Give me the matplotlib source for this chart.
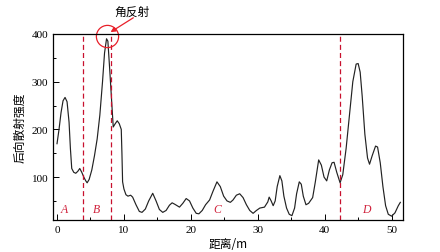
import matplotlib
matplotlib.use("Agg")
import matplotlib.pyplot as plt

distance = [0.0, 0.3, 0.6, 0.9, 1.2, 1.5, 1.8, 2.0, 2.2, 2.5, 2.8, 3.1, 3.4, 3.7, 4.0, 4.3, 4.5, 4.8,
            5.2, 5.6, 6.0, 6.4, 6.8, 7.1, 7.4, 7.6, 7.9, 8.2, 8.4, 8.7, 9.0, 9.3, 9.6, 9.7, 9.8, 10.0,
            10.3, 10.6, 11.0, 11.3, 11.8, 12.3, 12.7, 13.2, 13.7, 14.3, 14.8, 15.3, 15.8, 16.3, 16.8,
            17.2, 17.6, 18.3, 18.8, 19.3, 19.8, 20.3, 20.8, 21.2, 21.7, 22.2, 22.8, 23.3, 23.9, 24.4,
            24.9, 25.4, 25.9, 26.3, 26.8, 27.3, 27.8, 28.3, 28.8, 29.3, 29.8, 30.3, 31.0, 31.5, 31.7,
            32.0, 32.3, 32.6, 32.9, 33.3, 33.6, 33.9, 34.3, 34.7, 35.1, 35.5, 35.8, 36.2, 36.5, 36.8,
            37.2, 37.6, 38.2, 38.6, 39.1, 39.5, 39.9, 40.3, 40.7, 41.1, 41.4, 41.8, 42.3, 42.7, 43.2,
            43.7, 44.2, 44.7, 45.0, 45.3, 45.6, 46.0, 46.4, 46.7, 47.1, 47.6, 47.9, 48.3, 48.7, 49.1,
            49.5, 50.0, 50.5, 51.0, 51.3]
intensity = [170, 200, 235, 260, 267, 258, 215, 160, 118, 110, 108, 112, 118, 110, 100, 92, 88, 95,
             115, 145, 180, 230, 300, 360, 390, 385, 320, 250, 205, 212, 218, 212, 200, 150, 90, 75,
             63, 60, 62, 58, 42, 28, 26, 33, 50, 66, 50, 32, 26, 30, 41,
             46, 43, 37, 45, 55, 50, 35, 24, 23, 30, 42, 52, 70, 90, 80,
             60, 50, 47, 52, 62, 65, 57, 42, 30, 24, 30, 35, 37, 48, 58,
             50, 40, 50, 80, 103, 92, 60, 35, 22, 19, 35, 65, 90, 85, 60,
             42, 45, 57, 90, 136, 125, 100, 92, 115, 130, 131, 110, 88, 105, 160,
             230, 300, 337, 338, 320, 270, 190, 140, 127, 145, 165, 163, 130, 80, 40,
             22, 18, 25, 40, 47]

boundaries = [3.9, 8.05, 42.3]
region_labels = ["A", "B", "C", "D"]
region_x = [1.1, 5.9, 24.0, 46.3]
region_y = [33, 33, 33, 33]
x_ticks = [0, 10, 20, 30, 40, 50]
y_ticks = [100, 200, 300, 400]
peak = (7.4, 396)

plt.rcParams['font.family'] = ['Liberation Serif', 'Noto Sans CJK SC']

fig = plt.figure(figsize=(4.4, 2.53), dpi=100)
ax = fig.add_axes([53/440, 1-221/253, 350/440, 186/253])

ax.plot(distance, intensity, color='#222222', lw=0.85)
for b in boundaries:
    ax.axvline(b, color='#c8102e', lw=0.9, ls=(0, (4, 2.5)))
for lab, xx, yy in zip(region_labels, region_x, region_y):
    ax.text(xx, yy, lab, color='#d0203a', fontsize=8.5, style='italic',
            ha='center', va='center', family='Liberation Serif')

ax.plot([peak[0]], [peak[1]], marker='o', ms=16, mfc='none', mec='#e8202a',
        mew=0.9, clip_on=False)
ax.text(11.2, 448, '角反射', fontsize=8.5, ha='center', va='center',
        family=['Noto Sans CJK SC'], clip_on=False)
ax.annotate('', xy=(8.0, 404), xytext=(11.4, 434),
            textcoords='data', annotation_clip=False,
            arrowprops=dict(arrowstyle='-|>', color='#e8202a', lw=0.9,
                            shrinkA=0, shrinkB=0, mutation_scale=7))

ax.set_xlim(-0.6, 51.7)
ax.set_ylim(10, 400)
ax.set_xticks(x_ticks)
ax.set_yticks(y_ticks)
ax.set_xticks([5, 15, 25, 35, 45], minor=True)
ax.set_yticks([50, 150, 250, 350], minor=True)
ax.tick_params(which='both', direction='in', labelsize=8, top=False, right=False)
ax.tick_params(which='major', length=4, width=0.7)
ax.tick_params(which='minor', length=2.5, width=0.7)
for s in ax.spines.values():
    s.set_linewidth(0.9)

ax.set_xlabel('距离/m', fontsize=8.5, family=['Noto Sans CJK SC', 'Liberation Serif'], labelpad=2)
ax.set_ylabel('后向散射强度', fontsize=8.5, family=['Noto Sans CJK SC'], labelpad=4)

fig.savefig('out.png', dpi=100)
